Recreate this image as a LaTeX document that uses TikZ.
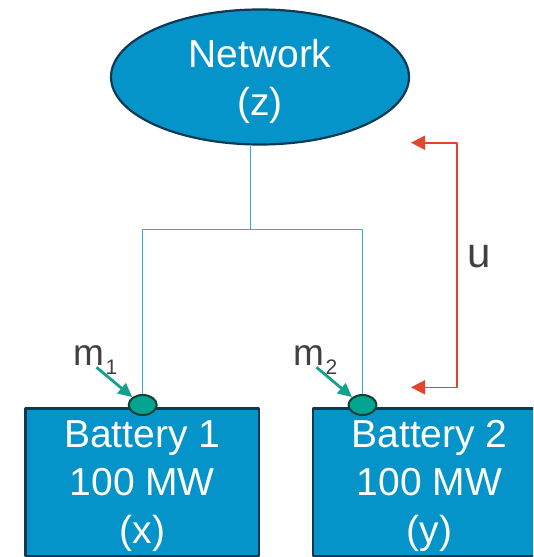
\documentclass[tikz,border=0pt]{standalone}
\usepackage{fontspec}
\setmainfont{Liberation Sans}
\usetikzlibrary{shapes.geometric,arrows.meta}
\definecolor{netblue}{HTML}{0494C9}
\definecolor{edgenavy}{HTML}{0D3A52}
\definecolor{wireblue}{HTML}{3DA6D5}
\definecolor{dotteal}{HTML}{05A391}
\definecolor{dotedge}{HTML}{0F3F35}
\definecolor{marrowteal}{HTML}{13A08C}
\definecolor{uarrowred}{HTML}{E2442C}
\definecolor{labelgrey}{HTML}{404040}
\newcommand{\msub}[1]{\kern1.5pt\raisebox{-9pt}{\fontsize{21}{21}\selectfont #1}}
\tikzset{
  unit/.style={fill=netblue, draw=edgenavy, line width=2.2pt, text=white, align=center,
    inner sep=0pt, text depth=0pt, font=\fontsize{39}{48}\selectfont},
  netnode/.style={unit, ellipse, minimum width=298pt, minimum height=135pt},
  batbox/.style={unit, rectangle, minimum width=233.5pt, minimum height=147.5pt},
  meter/.style={ellipse, fill=dotteal, draw=dotedge, line width=2pt, inner sep=0pt,
    minimum width=28pt, minimum height=20pt},
  mlabel/.style={text=labelgrey, inner sep=0pt, font=\fontsize{37}{37}\selectfont},
  wire/.style={draw=wireblue, line width=1.3pt},
  marrow/.style={draw=marrowteal, line width=2.8pt, -{Triangle[length=14pt,width=13pt]}},
  uarrow/.style={draw=uarrowred, line width=1.6pt, {Triangle[length=14pt,width=14pt]}-{Triangle[length=14pt,width=14pt]}}
}
\begin{document}
\begin{tikzpicture}[x=1pt, y=-1pt, line join=round]
  \clip (0,0) rectangle (533,557);
  % network and the two batteries
  \node (net) [netnode] at (260,77) {Network\\(z)};
  \node (bat1) [batbox] at (142.25,482.25) {Battery 1\\100 MW\\(x)};
  \node (bat2) [batbox] at (429.5,482.25) {Battery 2\\100 MW\\(y)};
  % meters
  \node (dot1) [meter] at (142.7,405) {};
  \node (dot2) [meter] at (362.5,405) {};
  \coordinate (bus) at (250.6,229.6);
  \draw[wire] (net.south -| bus) -- (bus);
  \draw[wire] (dot1.north) |- (bus) -| (dot2.north);
  % meter labels
  \node (m1) [mlabel, anchor=base west] at (73,365) {m\msub{1}};
  \node (m2) [mlabel, anchor=base west] at (293,365) {m\msub{2}};
  \draw[marrow] ([shift={(23.5,2.3)}]m1.base west) -- (dot1.143);
  \draw[marrow] ([shift={(23.5,2.3)}]m2.base west) -- (dot2.143);
  % control signal
  \coordinate (utop) at (411,142.7);
  \coordinate (ubot) at (411,387.3);
  \draw[uarrow] (utop) -- ++(45.7,0) |- (ubot);
  \node (ulbl) [mlabel, font=\fontsize{42}{42}\selectfont] at (479,257) {u};
\end{tikzpicture}
\end{document}
